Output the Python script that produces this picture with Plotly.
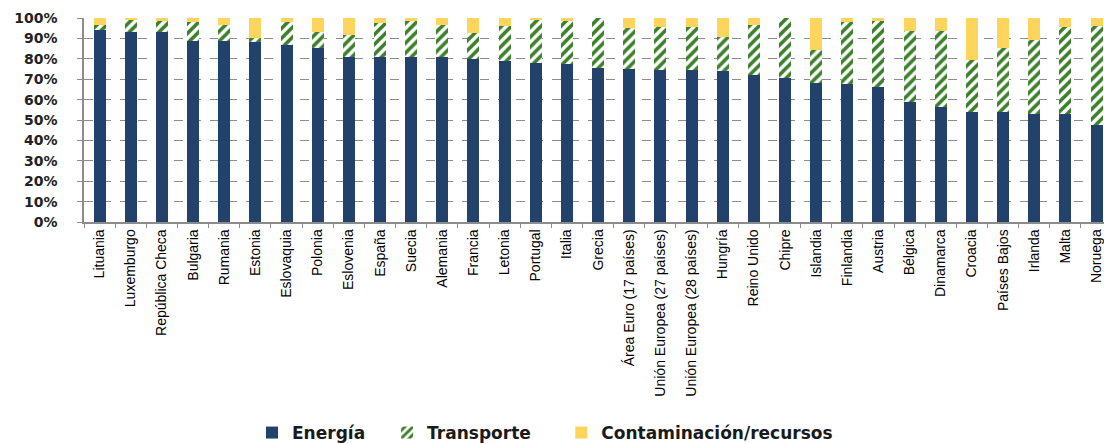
import plotly.graph_objects as go

categories = ["Lituania", "Luxemburgo", "República Checa", "Bulgaria", "Rumania", "Estonia",
              "Eslovaquia", "Polonia", "Eslovenia", "España", "Suecia", "Alemania", "Francia",
              "Letonia", "Portugal", "Italia", "Grecia", "Área Euro (17 países)",
              "Unión Europea (27 países)", "Unión Europea (28 países)", "Hungría", "Reino Unido",
              "Chipre", "Islandia", "Finlandia", "Austria", "Bélgica", "Dinamarca", "Croacia",
              "Países Bajos", "Irlanda", "Malta", "Noruega"]

energia = [93.9, 93.3, 93.1, 88.9, 88.5, 88.0, 86.9, 85.1, 80.8, 80.8, 80.8, 80.8, 79.8,
           78.7, 77.9, 77.4, 75.7, 74.9, 74.6, 74.6, 74.1, 72.1, 70.8, 68.0, 67.7, 66.4,
           59.0, 56.2, 54.1, 54.1, 52.8, 52.8, 47.5]
transporte = [2.8, 5.6, 5.6, 9.1, 8.2, 2.2, 11.0, 8.0, 10.8, 16.7, 17.6, 15.9, 12.8,
              17.5, 21.6, 21.3, 24.3, 20.2, 20.8, 20.8, 16.6, 24.3, 29.2, 16.4, 30.2, 32.3,
              34.8, 37.6, 25.4, 31.1, 36.2, 42.6, 48.4]
contaminacion = [3.3, 1.1, 1.3, 2.0, 3.3, 9.8, 2.1, 6.9, 8.4, 2.5, 1.6, 3.3, 7.4,
                 3.8, 0.5, 1.3, 0.0, 4.9, 4.6, 4.6, 9.3, 3.6, 0.0, 15.6, 2.1, 1.3,
                 6.2, 6.2, 20.5, 14.8, 11.0, 4.6, 4.1]

series_names = ["Energía", "Transporte", "Contaminación/recursos"]
# invisible padding after legend names to reproduce the wider legend spacing
legend_pad = ["\u2002\u2002", "\u2002\u2002\u2002", ""]

y_ticks = list(range(0, 101, 10))
y_labels = [f"{v}%" for v in y_ticks]

fig = go.Figure()
fig.add_trace(go.Bar(x=categories, y=energia, name=series_names[0] + legend_pad[0],
                     marker=dict(color="#23426B", line=dict(width=0))))
fig.add_trace(go.Bar(x=categories, y=transporte, name=series_names[1] + legend_pad[1],
                     marker=dict(color="#FFFFFF", line=dict(width=0),
                                 pattern=dict(shape="/", fgcolor="#3C7F2A", bgcolor="#FFFFFF",
                                              fgopacity=1, size=7, solidity=0.52))))
fig.add_trace(go.Bar(x=categories, y=contaminacion, name=series_names[2] + legend_pad[2],
                     marker=dict(color="#FDD55C", line=dict(width=0))))

fig.update_layout(
    width=1104, height=444,
    barmode="stack", bargap=0.615,
    plot_bgcolor="white", paper_bgcolor="white",
    margin=dict(l=84, r=0, t=18, b=222, autoexpand=False),
    font=dict(family="Liberation Sans, Arial, sans-serif", color="#000000"),
    showlegend=True,
    legend=dict(orientation="h", x=(252 - 84) / 1020, xanchor="left",
                y=-(433 - 222) / 204, yanchor="middle",
                font=dict(size=17, family="DejaVu Sans, sans-serif", weight="bold", color="#1a1a1a"),
                itemwidth=30, traceorder="normal"),
)
fig.update_yaxes(range=[0, 100], tickvals=y_ticks, ticktext=y_labels, automargin=False,
                 showgrid=True, gridcolor="#8C8C8C", griddash="dash", gridwidth=1.3,
                 showline=True, linecolor="#8C8C8C", linewidth=1.5,
                 ticks="outside", ticklen=5, tickcolor="#8C8C8C",
                 zeroline=False, ticklabelstandoff=17,
                 tickfont=dict(size=14, family="DejaVu Sans, sans-serif", weight="bold", color="#222222"))
fig.update_xaxes(range=[-0.5, 32.24], tickangle=-90, automargin=False,
                 showline=True, linecolor="#8C8C8C", linewidth=1.5,
                 ticks="outside", ticklen=4, tickcolor="#8C8C8C", tickson="boundaries",
                 showgrid=False,
                 tickfont=dict(size=14, family="Liberation Sans, Arial, sans-serif", color="#000000"))

fig.write_html("out.html", config={"displayModeBar": False},
               post_script="document.body.style.margin='0';")
